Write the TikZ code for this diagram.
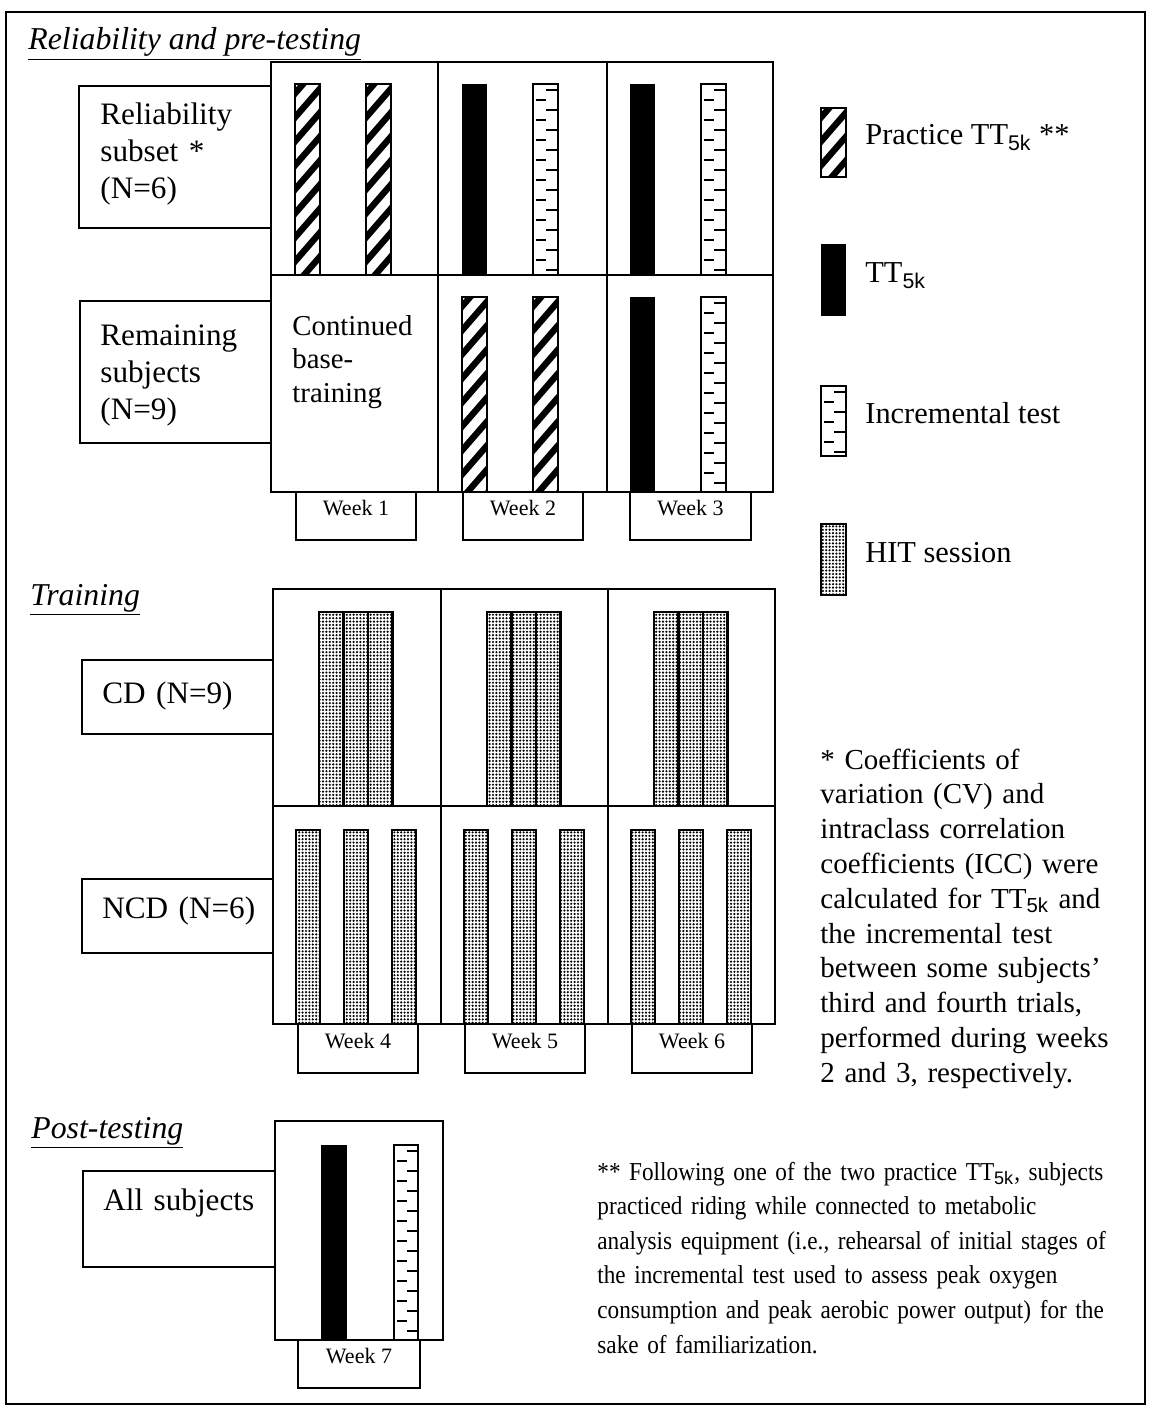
\documentclass[tikz,border=0pt]{standalone}
\usepackage{fontspec}
\setmainfont{Liberation Serif}
\setsansfont{Liberation Sans}
\newfontfamily\narrowserif[FakeStretch=0.9]{Liberation Serif}
\usetikzlibrary{fit,patterns.meta}
\newcommand\sub[1]{\textsubscript{\sffamily #1}}
\newcommand\hatchbar[4]{%
 \begin{scope}
 \clip (#1,#2) rectangle (#3,#4);
 \foreach \k in {-2,...,11} {
   \draw[line width=3.2pt] (#1-4, {#2+\k*24+38}) -- (#3+4, {#2+\k*24});
 }
 \end{scope}
 \draw[line width=1.1pt] (#1,#2) rectangle (#3,#4);
}
\newcommand\blackbar[4]{\fill (#1,#2) rectangle (#3,#4);}
\newcommand\incbar[4]{%
 \begin{scope}
 \clip (#1,#2) rectangle (#3,#4);
 \foreach \k in {0,...,11} {
   \draw[line width=1.2pt] (#1+13, {#2+6+\k*20}) -- (#3, {#2+6+\k*20});
   \draw[line width=1.2pt] (#1+3, {#2+16+\k*20}) -- (#1+13, {#2+16+\k*20});
 }
 \end{scope}
 \draw[line width=1.1pt] (#1,#2) rectangle (#3,#4);
}
\newcommand\hitbar[4]{\draw[line width=1.3pt, pattern={Dots[distance=1.7pt,radius=0.6pt]}] (#1,#2) rectangle (#3,#4);}
\begin{document}
\begin{tikzpicture}[x=0.5pt,y=-0.5pt,
  box/.style={draw, line width=1pt, inner sep=0pt},
  weekbox/.style={draw, line width=1pt, inner sep=0pt, font=\fontsize{11}{13}\selectfont},
  boxtext/.style={anchor=base west, inner sep=0pt, align=left, text width=100pt, font=\fontsize{15.6}{18.5}\selectfont},
  heading/.style={anchor=base west, inner sep=0pt, font=\fontsize{15.9}{19}\selectfont\itshape},
  legtext/.style={anchor=base west, inner sep=0pt, font=\fontsize{15.2}{18}\selectfont},
  note/.style={anchor=base west, inner sep=0pt, align=left, text width=290pt, font=\fontsize{14.5}{17.4}\selectfont}
]
\useasboundingbox (0,0) rectangle (1148,1407);
\fill[white] (0,0) rectangle (1148,1407);
\draw[line width=1pt] (6,12) rectangle (1145,1404);

% ---------- Reliability and pre-testing
\node[heading] (h1) at (28,50) {\underline{Reliability and pre-testing}};
\node[box, fit={(79,86) (271,228)}] (rel) {};
\node[boxtext] (relt) at (100,125) {Reliability\\subset *\\(N=6)};
\node[box, fit={(80,301) (271,443)}] (rem) {};
\node[boxtext] (remt) at (100,345) {Remaining\\subjects\\(N=9)};

\node[box, fit={(271,62) (438,275)}] (a11) {};
\node[box, fit={(438,62) (607,275)}] (a12) {};
\node[box, fit={(607,62) (773,275)}] (a13) {};
\node[box, fit={(271,275) (438,492)}] (a21) {};
\node[box, fit={(438,275) (607,492)}] (a22) {};
\node[box, fit={(607,275) (773,492)}] (a23) {};
\node[boxtext, font=\fontsize{14.4}{16.8}\selectfont] (cont) at (292,335) {Continued\\base-\\training};

\hatchbar{295}{84}{320}{275}
\hatchbar{366}{84}{391}{275}
\blackbar{462}{84}{487}{275}
\incbar{533}{84}{558}{275}
\blackbar{630}{84}{655}{275}
\incbar{701}{84}{726}{275}
\hatchbar{462}{297}{487}{492}
\hatchbar{533}{297}{558}{492}
\blackbar{630}{297}{655}{492}
\incbar{701}{297}{726}{492}

\node[weekbox, fit={(296,492) (416,540)}] (w1) {Week 1};
\node[weekbox, fit={(463,492) (583,540)}] (w2) {Week 2};
\node[weekbox, fit={(630,492) (751,540)}] (w3) {Week 3};

% ---------- Legend
\hatchbar{821}{108}{846}{177}
\node[legtext] (l1) at (865,145) {Practice TT\sub{5k} **};
\blackbar{821}{244}{846}{316}
\node[legtext] (l2) at (865,283) {TT\sub{5k}};
\incbar{821}{386}{846}{456}
\node[legtext] (l3) at (865,423) {Incremental test};
\hitbar{821}{524}{846}{595}
\node[legtext] (l4) at (865,562) {HIT session};

% ---------- Training
\node[heading] (h2) at (30,605) {\underline{Training}};
\node[box, fit={(82,660) (273,734)}] (cd) {};
\node[boxtext] (cdt) at (102,703) {CD (N=9)};
\node[box, fit={(82,879) (273,953)}] (ncd) {};
\node[boxtext] (ncdt) at (102,918) {NCD (N=6)};

\node[box, fit={(273,589) (441,806)}] (b11) {};
\node[box, fit={(441,589) (608,806)}] (b12) {};
\node[box, fit={(608,589) (775,806)}] (b13) {};
\node[box, fit={(273,806) (441,1024)}] (b21) {};
\node[box, fit={(441,806) (608,1024)}] (b22) {};
\node[box, fit={(608,806) (775,1024)}] (b23) {};

\foreach \c in {273,441,608}{
  \hitbar{\c+46}{612}{\c+70.5}{806}
  \hitbar{\c+70.5}{612}{\c+95}{806}
  \hitbar{\c+95}{612}{\c+119.5}{806}
  \hitbar{\c+23}{830}{\c+47}{1024}
  \hitbar{\c+71}{830}{\c+95}{1024}
  \hitbar{\c+119}{830}{\c+143}{1024}
}
\node[weekbox, fit={(298,1024) (418,1073)}] (w4) {Week 4};
\node[weekbox, fit={(465,1024) (585,1073)}] (w5) {Week 5};
\node[weekbox, fit={(632,1024) (752,1073)}] (w6) {Week 6};

\node[note] (n1) at (820,769) {* Coefficients of\\variation (CV) and\\intraclass correlation\\coefficients (ICC) were\\calculated for TT\sub{5k} and\\the incremental test\\between some subjects'\\third and fourth trials,\\performed during weeks\\2 and 3, respectively.};

% ---------- Post-testing
\node[heading] (h3) at (31,1138) {\underline{Post-testing}};
\node[box, fit={(83,1171) (275,1267)}] (all) {};
\node[boxtext] (allt) at (103,1210) {All subjects};
\node[box, fit={(275,1121) (443,1340)}] (c1) {};
\blackbar{321}{1145}{347}{1340}
\incbar{394}{1145}{418}{1340}
\node[weekbox, fit={(298,1340) (420,1388)}] (w7) {Week 7};

\node[note, text width=270pt, font=\narrowserif\fontsize{12.9}{17.3}\selectfont] (n2) at (597,1180) {** Following one of the two practice TT\sub{5k}, subjects\\practiced riding while connected to metabolic\\analysis equipment (i.e., rehearsal of initial stages of\\the incremental test used to assess peak oxygen\\consumption and peak aerobic power output) for the\\sake of familiarization.};
\end{tikzpicture}
\end{document}
